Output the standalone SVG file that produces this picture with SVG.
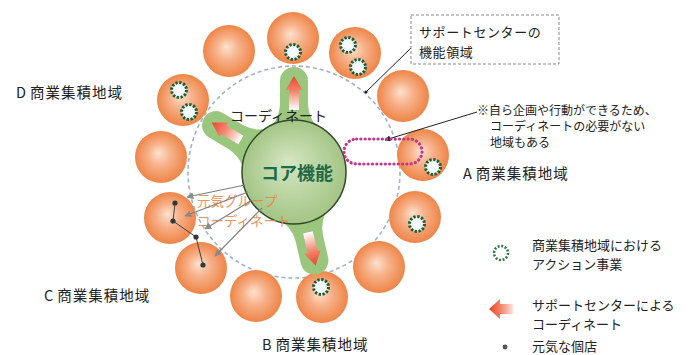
<svg xmlns="http://www.w3.org/2000/svg" width="690" height="355" viewBox="0 0 690 355">
<defs>
<radialGradient id="og" cx="0.5" cy="0.5" r="0.5" fx="0.45" fy="0.42">
<stop offset="0" stop-color="#fde2cf"/>
<stop offset="0.45" stop-color="#f7b088"/>
<stop offset="1" stop-color="#ee8547"/>
</radialGradient>
<radialGradient id="cg" cx="0.5" cy="0.5" r="0.5" fx="0.45" fy="0.4">
<stop offset="0" stop-color="#d6e7c3"/>
<stop offset="1" stop-color="#a3c585"/>
</radialGradient>
<radialGradient id="ag" cx="0.5" cy="0.5" r="0.5">
<stop offset="0" stop-color="#ffffff"/>
<stop offset="0.7" stop-color="#eef9f7"/>
<stop offset="1" stop-color="#cfeee6"/>
</radialGradient>
<linearGradient id="arr" x1="0" y1="0" x2="0" y2="1">
<stop offset="0" stop-color="#e8432c"/>
<stop offset="0.45" stop-color="#f4876e"/>
<stop offset="1" stop-color="#ffffff"/>
</linearGradient>
<linearGradient id="arrL" x1="0" y1="0" x2="1" y2="0">
<stop offset="0" stop-color="#e8432c"/>
<stop offset="0.5" stop-color="#f3856a"/>
<stop offset="1" stop-color="#fde3da"/>
</linearGradient>
<marker id="ga" viewBox="0 0 10 10" refX="9" refY="5" markerWidth="7" markerHeight="7" orient="auto" markerUnits="userSpaceOnUse">
<path d="M0,0 L10,5 L0,10 Z" fill="#8a8a8a"/>
</marker>
<marker id="ba" viewBox="0 0 10 10" refX="9" refY="5" markerWidth="6" markerHeight="6" orient="auto" markerUnits="userSpaceOnUse">
<path d="M0,0 L10,5 L0,10 Z" fill="#222"/>
</marker>
<g id="orb"><circle r="26" fill="url(#og)"/></g>
<g id="act"><circle r="7.5" fill="url(#ag)" stroke="#1f5a33" stroke-width="3" stroke-dasharray="2.3 1.63"/></g>
<path id="armShape" d="M 266,130 Q 279,122 280,104 L 280,81 A 14,14 0 0 1 308,81 L 308,104 Q 309,122 322,130 Z"/>
<path id="arrowShape" d="M 294,76 L 302.5,90 L 299,90 L 299,110 L 289,110 L 289,90 L 285.5,90 Z"/>
</defs>
<style>
text { font-family: "Noto Sans CJK JP", "Noto Sans", sans-serif; fill: #222; }
.reg { font-size: 14.5px; letter-spacing: 1px; }
.leg { font-size: 13px; }
.note { font-size: 12px; }
.box { font-size: 13px; letter-spacing: 0.6px; }
.arm { fill: #9bc67d; }
.genki { font-size: 13.5px; fill: #e8853f; opacity: 0.85; }
.gl { stroke: #7d7d7d; stroke-width: 1.1; fill: none; marker-end: url(#ga); }
.dot { fill: #2c3a40; }
</style>

<g id="support-area">
<circle cx="294" cy="172" r="106" fill="none" stroke="#9fb3c9" stroke-width="1.6" stroke-dasharray="4 3"/>
</g>

<g id="area-circles">
<use href="#orb" x="229" y="51"/>
<use href="#orb" x="293" y="38"/>
<use href="#orb" x="355" y="53"/>
<use href="#orb" x="403" y="96"/>
<use href="#orb" x="423" y="155"/>
<use href="#orb" x="415" y="217"/>
<use href="#orb" x="379" y="267"/>
<use href="#orb" x="322" y="297"/>
<use href="#orb" x="256" y="296"/>
<use href="#orb" x="201" y="268"/>
<use href="#orb" x="170" y="218"/>
<use href="#orb" x="161" y="157"/>
<use href="#orb" x="183" y="100"/>
</g>

<g id="actions">
<use href="#act" x="293" y="52"/>
<use href="#act" x="348" y="45"/>
<use href="#act" x="358" y="67"/>
<use href="#act" x="179" y="90"/>
<use href="#act" x="189" y="112"/>
<use href="#act" x="433" y="167"/>
<use href="#act" x="417" y="224"/>
<use href="#act" x="321" y="287"/>
</g>

<g id="arms">
<g id="arm-top">
<use href="#armShape" class="arm"/>
<use href="#arrowShape" fill="url(#arr)"/>
</g>
<g id="arm-upleft" transform="rotate(-59 294 172)">
<use href="#armShape" class="arm"/>
<use href="#arrowShape" fill="url(#arr)"/>
</g>
<g id="arm-bottom" transform="rotate(167 294 172)">
<use href="#armShape" class="arm"/>
<use href="#arrowShape" fill="url(#arr)"/>
</g>
</g>

<g id="core">
<circle cx="294" cy="172" r="52" fill="url(#cg)" stroke="#2f4a2c" stroke-width="1.5"/>
<text x="297" y="180" text-anchor="middle" style="font-size:18px;font-weight:bold;fill:#1f6a48">コア機能</text>
</g>

<g id="coordinate-label">
<text x="230" y="121" style="font-size:14px">コーディネート</text>
</g>

<g id="genki-group">
<text class="genki" x="197" y="206">元気グループ</text>
<text class="genki" x="197" y="226">コーディネート</text>
</g>

<g id="connectors">
<line class="gl" x1="245" y1="185" x2="187" y2="197"/>
<line class="gl" x1="248" y1="192" x2="185" y2="216"/>
<line class="gl" x1="252" y1="200" x2="205" y2="229"/>
<line class="gl" x1="262" y1="208" x2="215" y2="256"/>
<polyline points="175,203 173,221 196,237 203,265" fill="none" stroke="#3a4449" stroke-width="1"/>
<line x1="412" y1="47" x2="366" y2="92" stroke="#222" stroke-width="1"/>
<circle cx="366" cy="92" r="1.6" fill="#222"/>
<line x1="477" y1="112" x2="385" y2="140" stroke="#222" stroke-width="1" marker-end="url(#ba)"/>
</g>

<g id="shops">
<circle class="dot" cx="175" cy="203" r="2.6"/>
<circle class="dot" cx="173" cy="221" r="2.6"/>
<circle class="dot" cx="196" cy="237" r="2.6"/>
<circle class="dot" cx="203" cy="265" r="2.6"/>
</g>

<g id="no-coord-area">
<rect x="344" y="139" width="78" height="25" rx="12.5" fill="none" stroke="#c4358c" stroke-width="3.2" stroke-dasharray="0.1 4.2" stroke-linecap="round"/>
</g>

<g id="support-box">
<rect x="411" y="15" width="148" height="49" fill="#fff" stroke="#888" stroke-width="1" stroke-dasharray="3 2"/>
<text class="box" x="419" y="37">サポートセンターの</text>
<text class="box" x="419" y="57">機能領域</text>
</g>

<g id="note">
<text class="note" x="477" y="115">※自ら企画や行動ができるため、</text>
<text class="note" x="490" y="131">コーディネートの必要がない</text>
<text class="note" x="490" y="147">地域もある</text>
</g>

<g id="region-labels">
<text class="reg" x="463" y="179">A<tspan dx="3">商業集積地域</tspan></text>
<text class="reg" x="262" y="350">B<tspan dx="3">商業集積地域</tspan></text>
<text class="reg" x="44" y="301">C<tspan dx="3">商業集積地域</tspan></text>
<text class="reg" x="16" y="98">D<tspan dx="3">商業集積地域</tspan></text>
</g>

<g id="legend">
<g id="legend-action">
<circle cx="501" cy="253" r="7" fill="#fff" stroke="#2e7d46" stroke-width="2.6" stroke-dasharray="2 1.66"/>
<text class="leg" x="532" y="250">商業集積地域における</text>
<text class="leg" x="532" y="269">アクション事業</text>
</g>
<g id="legend-arrow">
<path d="M 489,309 L 500,299 L 500,304 L 513,304 L 513,314 L 500,314 L 500,319 Z" fill="url(#arrL)"/>
<text class="leg" x="532" y="310">サポートセンターによる</text>
<text class="leg" x="532" y="329">コーディネート</text>
</g>
<g id="legend-shop">
<circle cx="505" cy="347" r="2.4" fill="#555"/>
<text class="leg" x="532" y="351">元気な個店</text>
</g>
</g>
</svg>
